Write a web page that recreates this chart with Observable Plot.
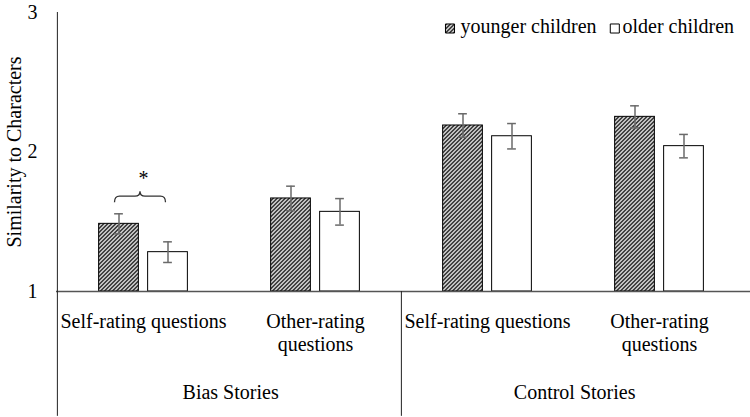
<!DOCTYPE html>
<html><head><meta charset="utf-8">
<script src="https://cdn.jsdelivr.net/npm/d3@7"></script>
<script src="https://cdn.jsdelivr.net/npm/@observablehq/plot@0.6"></script>
<style>body{margin:0;background:#fff}</style>
</head><body><div id="chart"></div>
<script>
// ---- data ----
const groupKeys = ["BS", "BO", "CS", "CO"];
const questionLabels = ["Self-rating questions", "Other-rating\nquestions", "Self-rating questions", "Other-rating\nquestions"];
const storyKeys = ["BS", "CS"];
const storyLabels = ["Bias Stories", "Control Stories"];
const seriesNames = ["younger children", "older children"];
const youngerMeans = [1.485, 1.667, 2.19, 2.252];
const youngerErr = [0.072, 0.088, 0.084, 0.079];
const olderMeans = [1.282, 1.571, 2.113, 2.042];
const olderErr = [0.074, 0.095, 0.091, 0.084];
const yTicks = [1, 2, 3];
const yTitle = "Similarity to Characters";
const sigGroup = "BS";
const sigMark = "*";

const rows = groupKeys.map((k, i) => ({
  key: k, label: questionLabels[i],
  younger: youngerMeans[i], ye: youngerErr[i],
  older: olderMeans[i], oe: olderErr[i]
}));
const stories = storyKeys.map((k, i) => ({key: k, label: storyLabels[i]}));

const W = 750, H = 417, ML = 56, MR = 5;
const bw = (W - ML - MR) / groupKeys.length;
const off = 24.5;
const barInset = (bw - 40) / 2;
const capInset = (bw - 9) / 2;
const errColor = "#6a6a6a";

const chart = Plot.plot({
  width: W, height: H,
  marginLeft: ML, marginRight: MR, marginTop: 12, marginBottom: 126,
  style: {fontFamily: "Liberation Serif", fontSize: "20px"},
  x: {domain: groupKeys, padding: 0, axis: null},
  y: {domain: [1, 3], axis: null},
  marks: [
    Plot.axisY({ticks: yTicks, tickFormat: d => String(d), tickSize: 0, tickPadding: 19, label: null, fontSize: 20}),
    Plot.text([yTitle], {frameAnchor: "left", textAnchor: "middle", rotate: -90, dx: -42, text: d => d, fontSize: 20}),
    // bars
    Plot.barY(rows, {x: "key", y1: 1, y2: "younger", dx: -off, insetLeft: barInset, insetRight: barInset,
      fill: "url(#hatch)", stroke: "#000", strokeWidth: 1}),
    Plot.barY(rows, {x: "key", y1: 1, y2: "older", dx: off, insetLeft: barInset, insetRight: barInset,
      fill: "#fff", stroke: "#000", strokeWidth: 1}),
    // error bars
    Plot.ruleX(rows, {x: "key", y1: d => d.younger - d.ye, y2: d => d.younger + d.ye, dx: -off, stroke: errColor, strokeWidth: 1.5}),
    Plot.tickY(rows, {x: "key", y: d => d.younger + d.ye, dx: -off, insetLeft: capInset, insetRight: capInset, stroke: errColor, strokeWidth: 1.5}),
    Plot.tickY(rows, {x: "key", y: d => d.younger - d.ye, dx: -off, insetLeft: capInset, insetRight: capInset, stroke: errColor, strokeWidth: 1.5}),
    Plot.ruleX(rows, {x: "key", y1: d => d.older - d.oe, y2: d => d.older + d.oe, dx: off, stroke: errColor, strokeWidth: 1.5}),
    Plot.tickY(rows, {x: "key", y: d => d.older + d.oe, dx: off, insetLeft: capInset, insetRight: capInset, stroke: errColor, strokeWidth: 1.5}),
    Plot.tickY(rows, {x: "key", y: d => d.older - d.oe, dx: off, insetLeft: capInset, insetRight: capInset, stroke: errColor, strokeWidth: 1.5}),
    // axis lines
    Plot.ruleY([1], {insetRight: -MR, stroke: "#555", strokeWidth: 1.3}),
    Plot.ruleX([groupKeys[0]], {x: d => d, y1: 0.105, y2: 3, dx: -bw / 2, stroke: "#222"}),
    Plot.ruleX([storyKeys[1]], {x: d => d, y1: 0.105, y2: 1, dx: -bw / 2, stroke: "#222"}),
    // labels
    Plot.text(rows, {x: "key", y: 1, text: "label", lineAnchor: "top", dy: 20, lineHeight: 1.15, fontSize: 20}),
    Plot.text(stories, {x: "key", y: 1, text: "label", lineAnchor: "top", dx: bw / 2 + 1, dy: 93, fontSize: 20}),
    // significance
    Plot.text([{key: sigGroup, t: sigMark}], {x: "key", y: 1.81, text: "t", fontSize: 20}),
    // legend
    Plot.dot([seriesNames[0]], {frameAnchor: "top-left", dx: 393.5, dy: 16, symbol: "square", r: 5.1, fill: "url(#hatch)", stroke: "#000", strokeWidth: 1}),
    Plot.text([seriesNames[0]], {frameAnchor: "top-left", dx: 404, dy: 20, textAnchor: "start", lineAnchor: "bottom", text: d => d, fontSize: 20}),
    Plot.dot([seriesNames[1]], {frameAnchor: "top-left", dx: 558.3, dy: 16, symbol: "square", r: 5.1, fill: "#fff", stroke: "#000", strokeWidth: 1}),
    Plot.text([seriesNames[1]], {frameAnchor: "top-left", dx: 566, dy: 20, textAnchor: "start", lineAnchor: "bottom", text: d => d, fontSize: 20})
  ]
});

const svg = d3.select(chart);
svg.insert("defs", ":first-child").html(
  '<pattern id="hatch" patternUnits="userSpaceOnUse" width="4" height="4">' +
  '<rect width="4" height="4" fill="#fff"/>' +
  '<path d="M-1,1 l2,-2 M0,4 l4,-4 M3,5 l2,-2" stroke="#000" stroke-width="1.4"/></pattern>');

// brace over the significant pair
const xs = chart.scale("x"), ys = chart.scale("y");
const cx = xs.apply(sigGroup) + xs.bandwidth / 2 - 3;
const hw = 25.5;
const yb = ys.apply(1.636), ym = ys.apply(1.68), yt = ys.apply(1.715);
const xl = cx - hw, xr = cx + hw;
const p = `M${xl},${yb} Q${xl},${ym} ${xl + 5},${ym} L${cx - 5},${ym} Q${cx},${ym} ${cx},${yt} Q${cx},${ym} ${cx + 5},${ym} L${xr - 5},${ym} Q${xr},${ym} ${xr},${yb}`;
svg.append("path").attr("d", p).attr("fill", "none").attr("stroke", "#333").attr("stroke-width", 1.3);

document.getElementById("chart").appendChild(chart);
</script>
</body></html>
